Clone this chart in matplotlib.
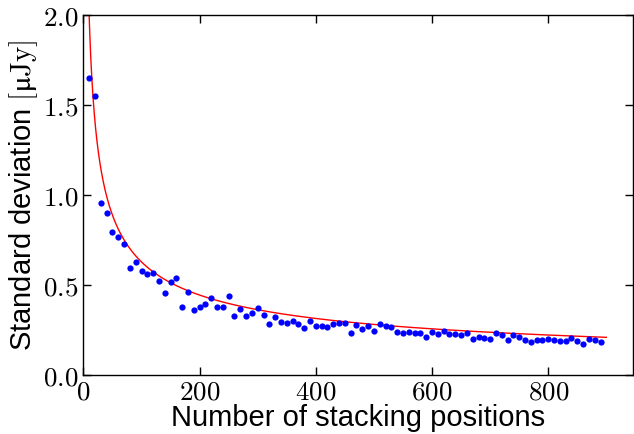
import matplotlib
matplotlib.use("Agg")
import matplotlib.pyplot as plt
import numpy as np
from matplotlib.ticker import FuncFormatter, FixedLocator

plt.rcParams['mathtext.fontset'] = 'cm'
plt.rcParams['font.family'] = ['Liberation Sans', 'DejaVu Sans']

# Data: number of stacking positions and measured standard deviation (uJy)
n_positions = list(range(10, 900, 10))
std_dev = [
    1.648, 1.552, 0.956, 0.902, 0.794, 0.767, 0.728, 0.593, 0.626, 0.580,
    0.559, 0.566, 0.524, 0.457, 0.515, 0.539, 0.376, 0.459, 0.359, 0.376,
    0.396, 0.426, 0.376, 0.378, 0.439, 0.328, 0.367, 0.330, 0.343, 0.370,
    0.333, 0.281, 0.324, 0.294, 0.287, 0.300, 0.285, 0.261, 0.298, 0.270,
    0.274, 0.268, 0.285, 0.287, 0.287, 0.233, 0.278, 0.256, 0.272, 0.244,
    0.285, 0.270, 0.265, 0.241, 0.233, 0.241, 0.233, 0.231, 0.211, 0.239,
    0.228, 0.244, 0.228, 0.228, 0.224, 0.233, 0.198, 0.211, 0.207, 0.200,
    0.233, 0.220, 0.194, 0.220, 0.209, 0.194, 0.181, 0.193, 0.193, 0.198,
    0.194, 0.191, 0.191, 0.204, 0.187, 0.172, 0.200, 0.193, 0.181,
]
# Fitted 1/sqrt(N) model curve
fit_coeff = 6.28
fit_range = (3, 900)

x_ticks = [0, 200, 400, 600, 800]
y_ticks = [0.0, 0.5, 1.0, 1.5, 2.0]

fig = plt.figure(figsize=(6.34, 4.34), dpi=100)
ax = fig.add_axes([83.4/634, 1-375/434, (632.5-83.4)/634, (375-15)/434])

xf = np.linspace(fit_range[0], fit_range[1], 2000)
ax.plot(xf, fit_coeff/np.sqrt(xf), color='r', lw=1.0, zorder=2)
ax.plot(n_positions, std_dev, 'o', color='b', ms=4.5, mew=0, zorder=3)

ax.set_xlim(0, 945)
ax.set_ylim(0, 2.0)
ax.xaxis.set_major_locator(FixedLocator(x_ticks))
ax.yaxis.set_major_locator(FixedLocator(y_ticks))
ax.xaxis.set_major_formatter(FuncFormatter(lambda v, p: r'$%d$' % v))
ax.yaxis.set_major_formatter(FuncFormatter(lambda v, p: r'$%.1f$' % v))
ax.tick_params(direction='in', top=True, right=True, length=6, width=1,
               labelsize=19.5)
ax.tick_params(axis='y', pad=3.5)
ax.tick_params(axis='x', pad=3.5)
for s in ax.spines.values():
    s.set_linewidth(1.0)

ax.set_xlabel('Number of stacking positions', fontsize=21, labelpad=-1)
ax.set_ylabel('Standard deviation $[\\mathrm{\u03bcJy}]$', fontsize=21, labelpad=2)

fig.savefig('out.png', dpi=100)
